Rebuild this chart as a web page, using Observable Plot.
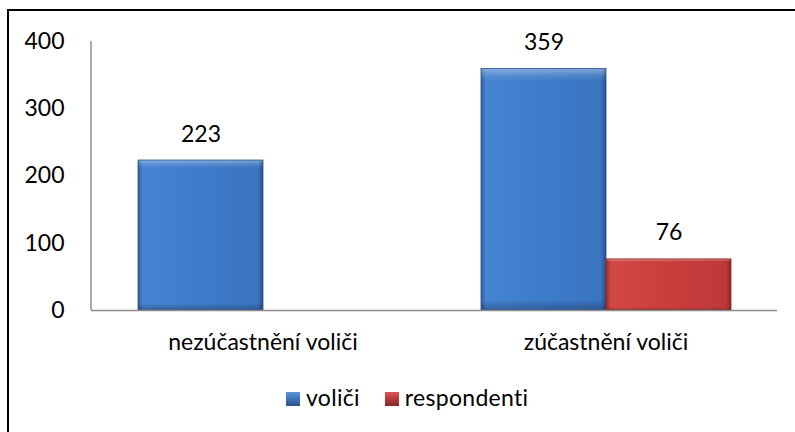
<!DOCTYPE html>
<html><head><meta charset="utf-8">
<script src="https://cdn.jsdelivr.net/npm/d3@7"></script>
<script src="https://cdn.jsdelivr.net/npm/@observablehq/plot@0.6"></script>
<style>
body{margin:0;background:#fff;font-family:Lato,"Open Sans",sans-serif;}
#wrap{position:relative;width:795px;height:432px;overflow:hidden;}
#frame{position:absolute;left:7px;top:9px;width:900px;height:600px;border:2px solid #000;pointer-events:none;}
#chart{position:absolute;left:0;top:0;}
#legend{position:absolute;top:383px;left:286px;display:flex;align-items:center;font-size:23px;color:#000;line-height:28px;letter-spacing:0.3px;}
.item{display:flex;align-items:center;}
.sw{width:14px;height:14px;margin-right:6px;margin-top:3px;}
</style></head>
<body><div id="wrap"><div id="chart"></div><div id="legend"></div><div id="frame"></div></div>
<script>
const categories = ["nezúčastnění voliči", "zúčastnění voliči"];
const series = ["voliči", "respondenti"];
const voliciValues = [223, 359];
const respondentiValues = [null, 76];
const yTicks = [0, 100, 200, 300, 400];
const seriesColors = ["url(#gBlue)", "url(#gRed)"];

const data = [];
categories.forEach((c, i) => {
  if (voliciValues[i] != null) data.push({cat: c, series: series[0], value: voliciValues[i]});
  if (respondentiValues[i] != null) data.push({cat: c, series: series[1], value: respondentiValues[i]});
});

const chart = Plot.plot({
  width: 795, height: 375,
  marginTop: 41, marginBottom: 65, marginLeft: 91, marginRight: 18,
  style: {fontFamily: "Lato, 'Open Sans', sans-serif", fontSize: "23px", color: "#000", background: "transparent", overflow: "visible"},
  fx: {domain: categories, padding: 0, label: null, axis: "bottom", tickSize: 0, tickPadding: 23},
  x: {domain: series, paddingInner: 0, paddingOuter: 0.37, axis: null},
  y: {domain: [0, 400], ticks: yTicks, label: null, tickSize: 0, tickPadding: 27},
  color: {domain: series, range: seriesColors},
  marks: [
    Plot.barY(data, {fx: "cat", x: "series", y: "value", fill: "series",
      stroke: d => d.series === series[0] ? "#2a5288" : "#8a2525", strokeWidth: 0.8}),
    Plot.barY(data, {fx: "cat", x: "series", y: "value", fill: "url(#gShade)", inset: 0.5}),
    Plot.ruleY([0], {stroke: "#8c8c8c", strokeWidth: 1.5}),
    Plot.text(data, {fx: "cat", x: "series", y: "value", text: d => String(d.value), lineAnchor: "bottom", dy: -19, fontSize: 23, fill: "#000"})
  ]
});

// gradients
const defs = d3.select(chart).insert("defs", ":first-child");
function grad(id, stops, vertical) {
  const g = defs.append("linearGradient").attr("id", id)
    .attr("x1", "0").attr("x2", vertical ? "0" : "1").attr("y1", "0").attr("y2", vertical ? "1" : "0");
  stops.forEach(([o, c, op]) => g.append("stop").attr("offset", o).attr("stop-color", c).attr("stop-opacity", op == null ? 1 : op));
}
grad("gBlue", [[0, "#2d5e9e"], [0.04, "#4684d2"], [0.5, "#3e7cca"], [0.96, "#3a74bf"], [1, "#264f88"]]);
grad("gRed", [[0, "#9a2b2b"], [0.04, "#d24846"], [0.5, "#c83e3d"], [0.96, "#bd3938"], [1, "#8a2525"]]);
grad("gShade", [[0, "#ffffff", 0.35], [0.025, "#ffffff", 0.12], [0.05, "#ffffff", 0], [0.96, "#000000", 0], [1, "#000000", 0.25]], true);

// y-axis line
const ys = chart.scale("y");
d3.select(chart).append("line")
  .attr("x1", 91).attr("x2", 91)
  .attr("y1", ys.apply(0)).attr("y2", ys.apply(400))
  .attr("stroke", "#8c8c8c").attr("stroke-width", 1.5);

document.getElementById("chart").appendChild(chart);

// legend
const leg = d3.select("#legend");
const lg = [["#5a95de", "#2a5288"], ["#de5655", "#8a2525"]];
series.forEach((s, i) => {
  const it = leg.append("div").attr("class", "item").style("margin-right", i === 0 ? "25px" : "0");
  it.append("div").attr("class", "sw").style("background", `linear-gradient(180deg, ${lg[i][0]}, ${lg[i][1]})`);
  it.append("span").text(s);
});
</script></body></html>
